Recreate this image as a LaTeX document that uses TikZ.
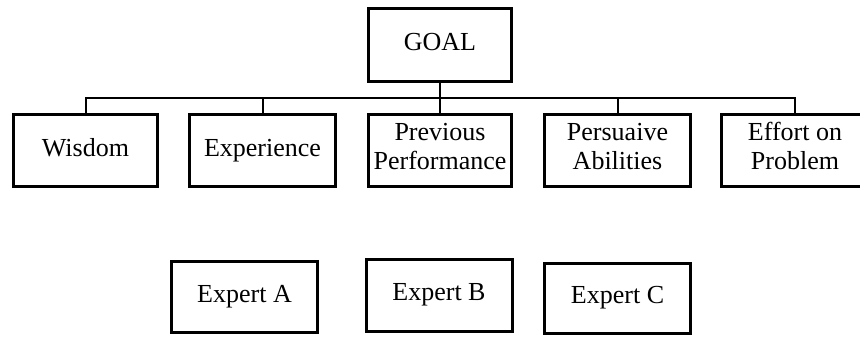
\documentclass[tikz,border=0pt]{standalone}
\usepackage{fontspec}
\setmainfont{Liberation Serif}
\usetikzlibrary{positioning}

\begin{document}
\begin{tikzpicture}[x=0.75pt, y=-0.75pt,
    critBox/.style={draw, line width=2.25pt, inner sep=0pt, align=center,
        minimum width=146*0.75pt, minimum height=72*0.75pt,
        font=\fontsize{19.5}{22}\selectfont,
        execute at begin node=\strut, execute at end node=\strut},
    busLine/.style={line width=1.5pt}]%
    \useasboundingbox (0,0) rectangle (860,336);
    \def\rowY{150.5}
    % top of the hierarchy
    \node (goal) [critBox, minimum width=143*0.75pt, minimum height=73*0.75pt] at (440,45) {GOAL};
    % criteria
    \node (wisdom) [critBox, minimum width=144*0.75pt] at (85.5,\rowY) {Wisdom};
    \node (exper) [critBox] at (262.5,\rowY) {Experience};
    \node (prevPerf) [critBox, minimum width=143*0.75pt] at (440,\rowY) {Previous\\Performance};
    \node (persAb) [critBox] at (617.5,\rowY) {Persuaive\\Abilities};
    \node (effort) [critBox, minimum width=148*0.75pt] at (795,\rowY) {Effort on\\Problem};
    % alternatives
    \node (expA) [critBox, minimum height=71*0.75pt] at (244.5,296.5) {Expert A};
    \node (expB) [critBox, minimum height=72*0.75pt] at (439,295) {Expert B};
    \node (expC) [critBox, minimum height=70*0.75pt] at (617.5,298) {Expert C};
    \coordinate (bus) at (440,98);
    \draw [busLine] (goal.south) -- (prevPerf.north);
    \foreach \c in {wisdom, exper, persAb, effort}{
        \draw [busLine] (bus) -| (\c.north);
    }
\end{tikzpicture}
\end{document}
